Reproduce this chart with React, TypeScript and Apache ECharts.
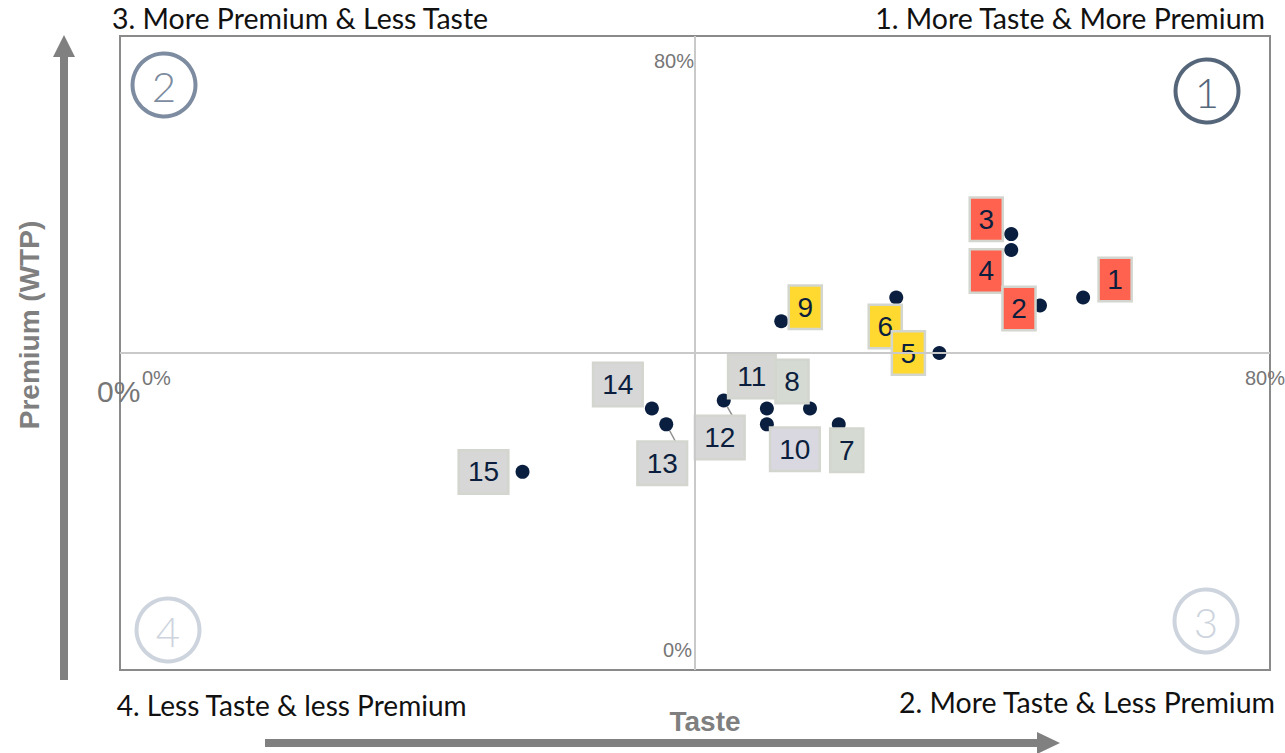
import React, { useEffect, useRef } from "react";
import * as echarts from "echarts";

// Product ids and their position on the taste / willingness-to-pay map (in %)
const productIds = ["1", "2", "3", "4", "5", "6", "7", "8", "9", "10", "11", "12", "13", "14", "15"];
const tasteScore = [67, 64, 62, 62, 57, 54, 50, 48, 46, 45, 45, 42, 38, 37, 28];
const premiumScore = [47, 46, 55, 53, 40, 47, 31, 33, 44, 31, 33, 34, 31, 33, 25];

// Axis range and quadrant split
const axisMin = 0;
const axisMax = 80;
const splitValue = 40;
const axisEndLabels = ["0%", "80%"];

// Quadrant captions and badges
const quadrantTitles = [
  "3. More Premium & Less Taste",
  "1. More Taste & More Premium",
  "4. Less Taste & less Premium",
  "2. More Taste & Less Premium",
];
const quadrantBadges = ["1", "2", "3", "4"];
const xAxisTitle = "Taste";
const yAxisTitle = "Premium (WTP)";

// ---- styling ----
const RED = "#ff634f";
const YELLOW = "#ffd92f";
const boxFill = [
  RED, RED, RED, RED, YELLOW, YELLOW, "#d5dad3", "#d5dad3", YELLOW,
  "#d9d8e0", "#d6d7d4", "#d7d7d7", "#d7d7d7", "#d7d7d7", "#d7d7d7",
];
// label box offset from its dot, in px
const labelOffset: [number, number][] = [
  [32, -18], [-21, 3], [-25, -15], [-25, 21], [-31, 0], [-11, 29], [8, 26], [-18, -27],
  [24, -14], [28, 25], [-15, -32], [-4, 37], [-4, 39], [-34, -24], [-39, 0],
];
const withLeader = [11, 12];
// paint order so overlapping boxes stack the same way
const paintOrder = [0, 2, 3, 1, 5, 4, 6, 7, 10, 8, 9, 11, 12, 13, 14];

const GRID = { left: 120, top: 36, width: 1150, height: 634 };
const LABEL_FONT = "'Liberation Sans', Arial, sans-serif";
const TITLE_FONT = "Lato, 'Open Sans', sans-serif";

export default function App() {
  const ref = useRef<HTMLDivElement>(null);

  useEffect(() => {
    if (!ref.current) return;
    const chart = echarts.init(ref.current, undefined, { renderer: "svg" });

    const data = paintOrder.map((i) => {
      const id = productIds[i];
      const item: any = {
        name: id,
        value: [tasteScore[i], premiumScore[i]],
        label: {
          offset: labelOffset[i],
          backgroundColor: boxFill[i],
          padding: id.length > 1 ? [7, 8, 7, 8] : [7, 7.5, 7, 7.5],
        },
      };
      if (withLeader.includes(i)) {
        item.labelLine = { show: true, lineStyle: { color: "#8f8f8f", width: 1.5 } };
      }
      return item;
    });

    const cx = GRID.left + GRID.width / 2;
    const cy = GRID.top + GRID.height / 2;
    const right = GRID.left + GRID.width;
    const bottom = GRID.top + GRID.height;

    const pctStyle = (size: number) => ({
      fill: "#767676",
      fontSize: size,
      fontFamily: LABEL_FONT,
    });

    const badge = (x: number, y: number, text: string, color: string) => ({
      type: "group",
      children: [
        {
          type: "circle",
          shape: { cx: x, cy: y, r: 31.5 },
          style: { fill: "none", stroke: color, lineWidth: 4 },
        },
        {
          type: "text",
          x,
          y: y + 1,
          style: {
            text,
            fill: color,
            fontSize: 42,
            fontFamily: TITLE_FONT,
            fontWeight: 300,
            align: "center",
            verticalAlign: "middle",
          },
        },
      ],
    });

    const titleStyle = {
      fill: "#111111",
      fontSize: 28.5,
      fontFamily: TITLE_FONT,
      verticalAlign: "middle",
    };
    const axisTitleStyle = {
      fill: "#7f7f7f",
      fontSize: 28,
      fontWeight: "bold",
      fontFamily: LABEL_FONT,
      align: "center",
      verticalAlign: "middle",
    };
    const arrowColor = "#808080";

    chart.setOption({
      animation: false,
      backgroundColor: "#ffffff",
      grid: {
        left: GRID.left,
        top: GRID.top,
        width: GRID.width,
        height: GRID.height,
        show: true,
        borderColor: "#8a8a8a",
        borderWidth: 2,
        backgroundColor: "transparent",
      },
      xAxis: {
        type: "value",
        min: axisMin,
        max: axisMax,
        axisLine: { show: false },
        axisTick: { show: false },
        axisLabel: { show: false },
        splitLine: { show: false },
      },
      yAxis: {
        type: "value",
        min: axisMin,
        max: axisMax,
        axisLine: { show: false },
        axisTick: { show: false },
        axisLabel: { show: false },
        splitLine: { show: false },
      },
      series: [
        {
          type: "scatter",
          symbol: "circle",
          symbolSize: 14,
          itemStyle: { color: "#0a1f40", opacity: 1 },
          label: {
            show: true,
            position: "inside",
            formatter: "{b}",
            color: "#0c1e3d",
            fontSize: 28,
            fontFamily: LABEL_FONT,
            lineHeight: 27,
            borderColor: "#d3d6cf",
            borderWidth: 2.5,
          },
          labelLine: { show: false },
          emphasis: { disabled: true },
          data,
          markLine: {
            silent: true,
            symbol: "none",
            label: { show: false },
            lineStyle: { color: "#c9c9c9", width: 2, type: "solid" },
            data: [{ xAxis: splitValue }, { yAxis: splitValue }],
          },
          z: 3,
        },
      ],
      graphic: [
        // quadrant badges
        badge(1207, 91, quadrantBadges[0], "#56667a"),
        badge(164, 85, quadrantBadges[1], "#7d8ca0"),
        badge(1206, 621, quadrantBadges[2], "#cdd4dd"),
        badge(168, 630, quadrantBadges[3], "#cdd4dd"),
        // quadrant captions
        { type: "text", x: 112, y: 18, style: { ...titleStyle, text: quadrantTitles[0], align: "left" } },
        { type: "text", x: 1265, y: 18, style: { ...titleStyle, text: quadrantTitles[1], align: "right" } },
        { type: "text", x: 115, y: 705, scaleX: 0.985, originX: 115, originY: 705, style: { ...titleStyle, text: quadrantTitles[2], align: "left" } },
        { type: "text", x: 1275, y: 702, style: { ...titleStyle, text: quadrantTitles[3], align: "right" } },
        // axis end labels along the split lines
        { type: "text", x: cx - 1, y: 61, style: { ...pctStyle(20), text: axisEndLabels[1], align: "right", verticalAlign: "middle" } },
        { type: "text", x: cx - 3, y: bottom - 20, style: { ...pctStyle(20), text: axisEndLabels[0], align: "right", verticalAlign: "middle" } },
        { type: "text", x: right + 15, y: cy + 25, style: { ...pctStyle(20), text: axisEndLabels[1], align: "right", verticalAlign: "middle" } },
        { type: "text", x: GRID.left + 22, y: cy + 25, style: { ...pctStyle(20), text: axisEndLabels[0], align: "left", verticalAlign: "middle" } },
        { type: "text", x: GRID.left - 23, y: cy + 38, style: { ...pctStyle(30), text: axisEndLabels[0], align: "left", verticalAlign: "middle" } },
        // axis titles
        { type: "text", x: 705, y: 721, style: { ...axisTitleStyle, text: xAxisTitle } },
        { type: "text", x: 29, y: 325, rotation: Math.PI / 2, style: { ...axisTitleStyle, text: yAxisTitle } },
        // direction arrows
        { type: "line", shape: { x1: 64, y1: 680, x2: 64, y2: 55 }, style: { stroke: arrowColor, lineWidth: 8 } },
        { type: "polygon", shape: { points: [[64, 35], [53, 57], [75, 57]] }, style: { fill: arrowColor } },
        { type: "line", shape: { x1: 265, y1: 743, x2: 1040, y2: 743 }, style: { stroke: arrowColor, lineWidth: 8 } },
        { type: "polygon", shape: { points: [[1060, 743], [1037, 732], [1037, 754]] }, style: { fill: arrowColor } },
      ],
    });

    return () => chart.dispose();
  }, []);

  return (
    <div
      ref={ref}
      style={{ position: "fixed", left: 0, top: 0, width: 1285, height: 753, background: "#fff" }}
    />
  );
}
